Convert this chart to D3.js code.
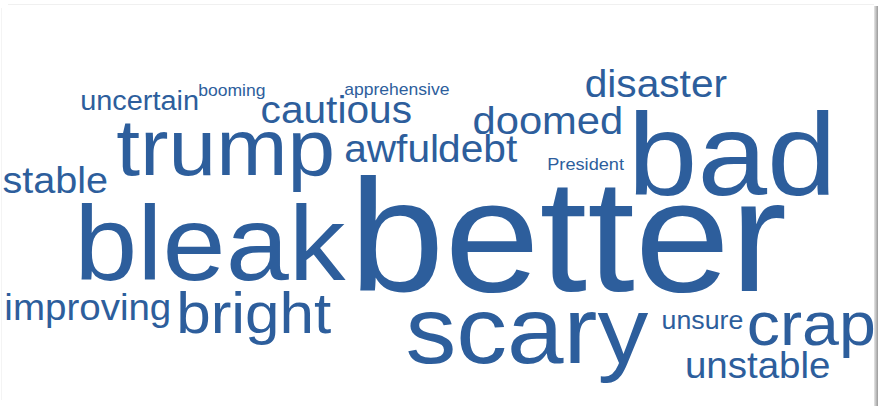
<!DOCTYPE html>
<html>
<head>
<meta charset="utf-8">
<script src="https://cdn.jsdelivr.net/npm/d3@7"></script>
<style>
  body { margin: 0; background: #fff; }
  svg { display: block; }
</style>
</head>
<body>
<svg width="878" height="406"></svg>
<script>
// Words, their weights and where the cloud put them (fractions of the canvas)
const words = ["better", "bad", "bleak", "scary", "trump", "crap", "bright", "doomed",
  "disaster", "cautious", "awful", "debt", "stable", "improving", "unstable",
  "uncertain", "unsure", "President", "booming", "apprehensive"];
const weights = [40, 29.25, 26.5, 23.75, 20, 15.5, 14.5, 9.75,
  9.5, 9.5, 9.5, 9.5, 9.25, 9, 9,
  6.75, 6.25, 4.25, 4.1, 4.1];
const posX = [0.647, 0.834, 0.239, 0.600, 0.257, 0.924, 0.289, 0.624,
  0.747, 0.383, 0.446, 0.544, 0.063, 0.100, 0.863,
  0.159, 0.800, 0.667, 0.264, 0.452];
const posY = [0.717, 0.480, 0.690, 0.894, 0.431, 0.850, 0.820, 0.330,
  0.239, 0.303, 0.399, 0.399, 0.475, 0.788, 0.931,
  0.271, 0.810, 0.419, 0.236, 0.234];

const width = 878, height = 406;
const svg = d3.select("svg");

// Frame: faint top line and grey shadow on the right edge
const defs = svg.append("defs");
const grad = defs.append("linearGradient").attr("id", "shade")
  .attr("x1", "0").attr("x2", "1").attr("y1", "0").attr("y2", "0");
grad.append("stop").attr("offset", "0").attr("stop-color", "#e6e6e6");
grad.append("stop").attr("offset", "1").attr("stop-color", "#9a9a9a");
svg.append("line").attr("x1", 8).attr("x2", 874).attr("y1", 4.5).attr("y2", 4.5)
  .attr("stroke", "#f0f0f0");
svg.append("line").attr("x1", 1.5).attr("x2", 1.5).attr("y1", 8).attr("y2", 400)
  .attr("stroke", "#f4f4f4");
svg.append("rect").attr("x", 874).attr("y", 6).attr("width", 4).attr("height", 400)
  .attr("fill", "url(#shade)");

const x = d3.scaleLinear().domain([0, 1]).range([0, width]);
const y = d3.scaleLinear().domain([0, 1]).range([0, height]);
const size = d3.scaleLinear().domain([0, 40]).range([0, 160]);

const data = words.map((w, i) => ({ text: w, weight: weights[i], x: posX[i], y: posY[i] }));

svg.append("g")
  .selectAll("text")
  .data(data)
  .join("text")
  .attr("text-anchor", "middle")
  .attr("transform", (d) => `translate(${x(d.x)},${y(d.y)}) scale(1.07,1)`)
  .style("font-family", "'Liberation Sans', Arial, sans-serif")
  .style("font-size", (d) => size(d.weight) + "px")
  .style("fill", "#2d5e9c")
  .text((d) => d.text);
</script>
</body>
</html>
